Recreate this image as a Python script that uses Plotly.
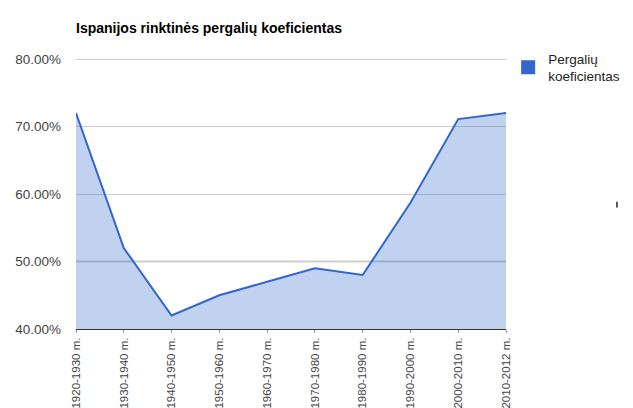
import plotly.graph_objects as go

categories = ["1920-1930 m.", "1930-1940 m.", "1940-1950 m.", "1950-1960 m.",
              "1960-1970 m.", "1970-1980 m.", "1980-1990 m.", "1990-2000 m.",
              "2000-2010 m.", "2010-2012 m."]
values = [0.72, 0.52, 0.42, 0.45, 0.47, 0.49, 0.48, 0.587, 0.711, 0.72]
y_ticks = [0.4, 0.5, 0.6, 0.7, 0.8]
series_name = "Pergalių<br>koeficientas"
title = "Ispanijos rinktinės pergalių koeficientas"

FONT = "Liberation Sans, Arial, sans-serif"

fig = go.Figure()
fig.add_trace(go.Scatter(
    x=categories, y=values, mode="lines", fill="tozeroy",
    fillcolor="rgba(51,102,204,0.3)", line=dict(color="#3366cc", width=2),
    showlegend=False, hoverinfo="x+y",
))
fig.add_trace(go.Scatter(
    x=[None], y=[None], mode="markers", name=series_name,
    marker=dict(symbol="square", size=14, color="#3366cc"),
))

# darker middle gridline (baseline style of the original)
fig.add_hline(y=y_ticks[1], line=dict(color="#a0a0a0", width=1.5), layer="below")
# small stray mark at the right edge of the original picture
fig.add_shape(type="line", xref="paper", yref="paper",
              x0=1.258, x1=1.258, y0=0.448, y1=0.47,
              line=dict(color="#222", width=1.5))

fig.update_layout(
    width=633, height=408,
    margin=dict(l=76, r=127, t=58, b=79, autoexpand=False),
    paper_bgcolor="white", plot_bgcolor="white",
    font=dict(family=FONT, size=13, color="#444"),
    title=dict(text="<b>" + title + "</b>", x=76/633, xanchor="left",
               y=1 - 28/408, yanchor="middle",
               font=dict(family=FONT, size=14, color="#000")),
    legend=dict(x=1.005, y=1.055, xanchor="left", yanchor="top",
                font=dict(family=FONT, size=13.5, color="#222"),
                bgcolor="rgba(0,0,0,0)", itemwidth=30, tracegroupgap=0),
    xaxis=dict(type="category", range=[0, len(categories) - 1],
               tickangle=-90, showgrid=False, ticks="outside", ticklen=3,
               tickcolor="#999", showline=True, linecolor="#333", linewidth=1,
               tickfont=dict(family=FONT, size=11.5, color="#444"),
               zeroline=False, automargin=False),
    yaxis=dict(range=[0.4, 0.8015], tickvals=y_ticks, tickformat=".2%",
               showgrid=True, gridcolor="#cccccc", gridwidth=1, zeroline=False,
               ticks="", ticklabelstandoff=14, automargin=False,
               tickfont=dict(family=FONT, size=13.5, color="#444")),
)

fig.write_html("out.html")
